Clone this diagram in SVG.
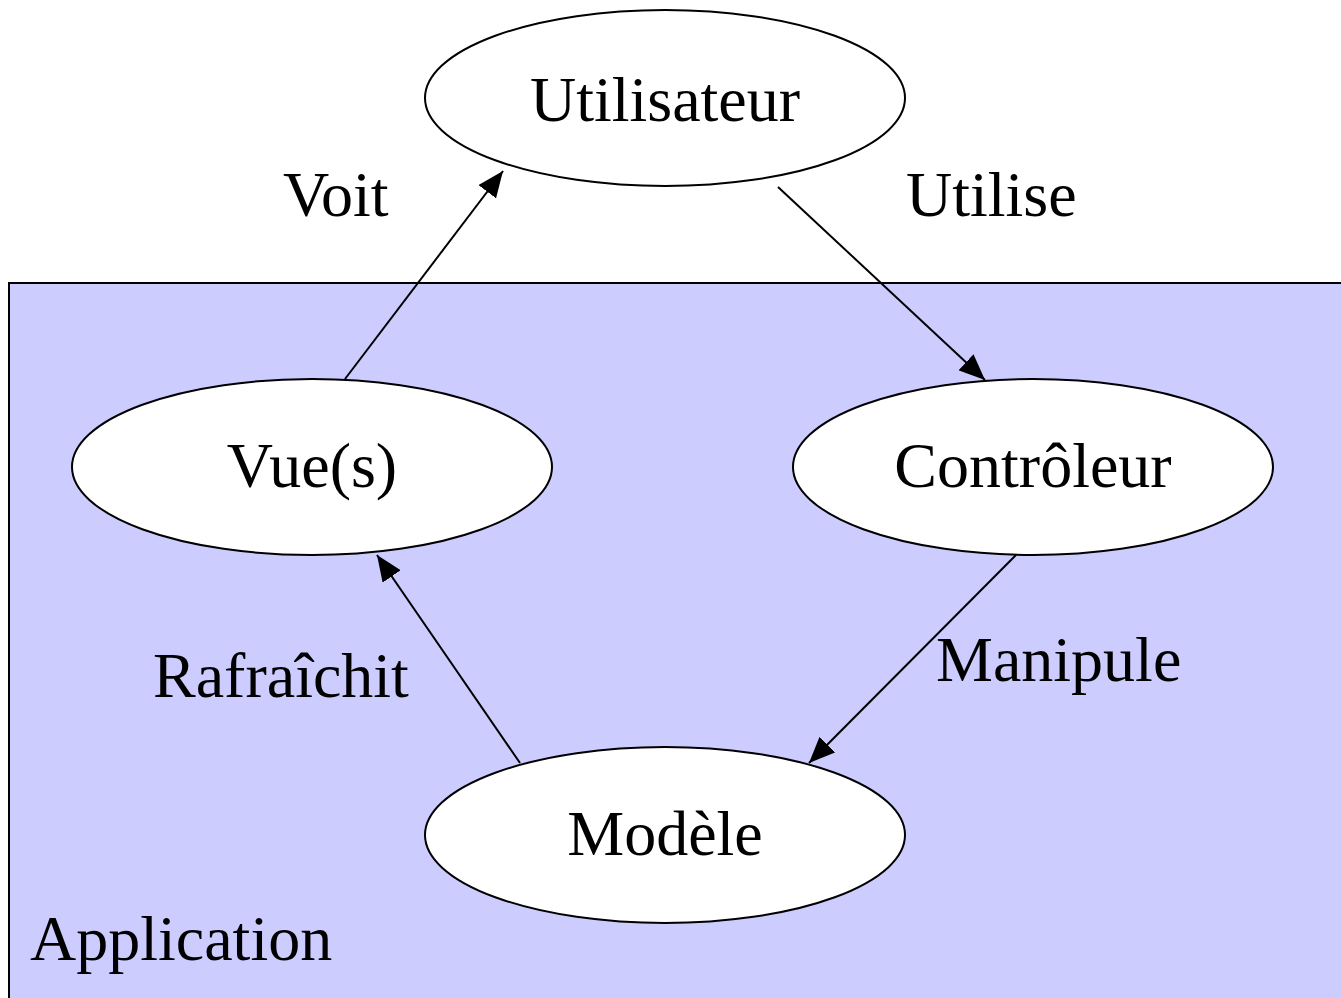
<svg xmlns="http://www.w3.org/2000/svg" width="1341" height="998" viewBox="0 0 1341 998">
<style>
.n ellipse{fill:#fff;stroke:#000;stroke-width:2}
text{font-family:"Liberation Serif","Times New Roman",serif;font-size:64px;fill:#000}
.c{text-anchor:middle}
.e line{stroke:#000;stroke-width:2;marker-end:url(#ah)}
</style>
<defs>
<marker id="ah" markerUnits="userSpaceOnUse" markerWidth="28" markerHeight="22" refX="26" refY="11" orient="auto">
<path d="M0,0 L26,11 L0,22 Z" fill="#000"/>
</marker>
</defs>
<g id="application">
<rect x="9" y="283" width="1345" height="730" fill="#ccccff" stroke="#000" stroke-width="2"/>
<text x="30" y="960">Application</text>
</g>
<g class="e" id="connectors">
<line x1="345" y1="379" x2="503" y2="171"/>
<line x1="778" y1="187" x2="985" y2="380"/>
<line x1="1016" y1="555" x2="809" y2="763"/>
<line x1="520" y1="763" x2="377" y2="555"/>
<text x="283" y="216">Voit</text>
<text x="906" y="216">Utilise</text>
<text x="936" y="681">Manipule</text>
<text x="153" y="697">Rafraîchit</text>
</g>
<g class="n" id="utilisateur"><ellipse cx="665" cy="98" rx="240" ry="88"/><text class="c" x="665" y="121">Utilisateur</text></g>
<g class="n" id="vues"><ellipse cx="312" cy="467" rx="240" ry="88"/><text class="c" x="312" y="487">Vue(s)</text></g>
<g class="n" id="controleur"><ellipse cx="1033" cy="467" rx="240" ry="88"/><text class="c" x="1033" y="487">Contrôleur</text></g>
<g class="n" id="modele"><ellipse cx="665" cy="835" rx="240" ry="88"/><text class="c" x="665" y="855">Modèle</text></g>
</svg>
